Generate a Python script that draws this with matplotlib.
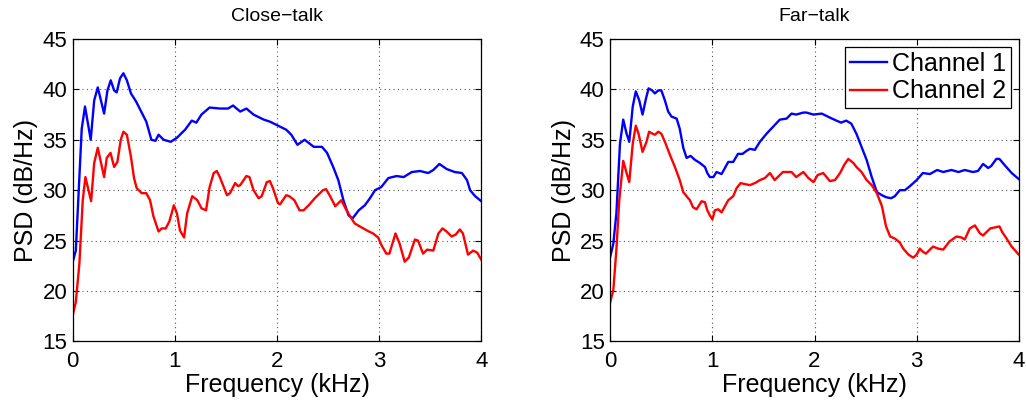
import matplotlib
matplotlib.use("Agg")
import matplotlib.pyplot as plt

# Close-talk, channel 1 (kHz, dB/Hz)
close_f1 = [0.0, 0.03, 0.088, 0.12, 0.176, 0.21, 0.245, 0.307, 0.34, 0.372, 0.405, 0.43, 0.463, 0.496,
            0.53, 0.57, 0.62, 0.66, 0.72, 0.77, 0.81, 0.84, 0.89, 0.96, 1.02, 1.10, 1.165, 1.21, 1.26,
            1.34, 1.44, 1.52, 1.57, 1.64, 1.70, 1.77, 1.87, 1.93, 2.03, 2.09, 2.14, 2.20, 2.27, 2.36,
            2.44, 2.49, 2.55, 2.60, 2.65, 2.70, 2.74, 2.80, 2.86, 2.91, 2.96, 3.02, 3.09, 3.17, 3.24,
            3.32, 3.40, 3.48, 3.53, 3.59, 3.66, 3.74, 3.81, 3.86, 3.89, 3.94, 4.0]
close_ch1 = [22.9, 24.0, 36.1, 38.3, 35.0, 38.9, 40.2, 37.6, 39.9, 40.9, 39.9, 39.7, 41.1, 41.6,
             40.9, 39.6, 38.8, 38.0, 36.8, 35.0, 34.9, 35.5, 35.0, 34.8, 35.2, 36.0, 36.9, 36.7, 37.5,
             38.2, 38.1, 38.1, 38.4, 37.8, 38.1, 37.5, 37.0, 36.8, 36.3, 36.0, 35.5, 34.5, 35.0, 34.3,
             34.3, 33.7, 32.3, 31.0, 29.0, 27.5, 27.2, 28.0, 28.5, 29.2, 30.0, 30.3, 31.2, 31.4, 31.3,
             31.8, 31.9, 31.7, 32.0, 32.6, 32.1, 31.8, 31.7, 31.0, 30.0, 29.4, 28.9]

# Close-talk, channel 2
close_f2 = [0.0, 0.03, 0.065, 0.098, 0.124, 0.18, 0.21, 0.245, 0.307, 0.333, 0.37, 0.405, 0.437, 0.47,
            0.496, 0.53, 0.57, 0.60, 0.626, 0.675, 0.72, 0.757, 0.79, 0.84, 0.87, 0.91, 0.946, 0.99,
            1.02, 1.05, 1.09, 1.12, 1.17, 1.22, 1.26, 1.305, 1.34, 1.38, 1.41, 1.44, 1.51, 1.54, 1.59,
            1.62, 1.64, 1.70, 1.73, 1.77, 1.82, 1.85, 1.90, 1.93, 1.96, 2.01, 2.03, 2.09, 2.12, 2.17,
            2.22, 2.26, 2.31, 2.37, 2.45, 2.48, 2.52, 2.57, 2.63, 2.67, 2.71, 2.76, 2.81, 2.88, 2.94,
            2.99, 3.02, 3.07, 3.10, 3.13, 3.16, 3.20, 3.25, 3.29, 3.35, 3.38, 3.43, 3.47, 3.53, 3.58,
            3.62, 3.66, 3.71, 3.75, 3.79, 3.82, 3.87, 3.92, 3.96, 4.0]
close_ch2 = [17.6, 18.9, 22.7, 29.0, 31.3, 28.9, 32.7, 34.2, 31.3, 33.2, 33.7, 32.3, 32.8, 35.0,
             35.8, 35.5, 33.3, 31.2, 30.2, 29.7, 29.7, 29.0, 27.4, 25.9, 26.2, 26.2, 26.9, 28.5,
             27.7, 26.0, 25.3, 27.7, 29.4, 29.0, 28.2, 28.0, 30.3, 31.7, 31.9, 31.3, 29.5, 29.7, 30.7,
             30.4, 30.5, 31.4, 31.3, 30.0, 29.2, 29.4, 30.8, 30.9, 30.2, 28.7, 28.6, 29.5, 29.4, 29.0,
             28.0, 28.0, 28.5, 29.2, 30.0, 30.1, 29.4, 28.4, 29.0, 28.2, 27.5, 26.7, 26.4, 26.0, 25.7,
             25.3, 24.6, 23.7, 23.7, 24.7, 25.7, 24.7, 22.9, 23.3, 25.1, 25.0, 23.7, 24.1, 24.0, 25.7,
             26.2, 25.9, 25.4, 25.6, 26.1, 25.7, 23.6, 24.0, 23.8, 23.1]

# Far-talk, channel 1
far_f1 = [0.0, 0.03, 0.06, 0.095, 0.127, 0.16, 0.186, 0.22, 0.25, 0.284, 0.316, 0.35, 0.375, 0.41,
          0.437, 0.47, 0.50, 0.535, 0.567, 0.60, 0.65, 0.68, 0.715, 0.747, 0.786, 0.83, 0.877, 0.927,
          0.95, 0.975, 1.01, 1.04, 1.09, 1.155, 1.204, 1.25, 1.295, 1.334, 1.367, 1.416, 1.465, 1.53,
          1.595, 1.66, 1.726, 1.775, 1.82, 1.89, 1.92, 1.99, 2.07, 2.15, 2.215, 2.26, 2.31, 2.36,
          2.41, 2.46, 2.51, 2.56, 2.61, 2.66, 2.70, 2.75, 2.786, 2.835, 2.885, 2.934, 3.0, 3.06,
          3.13, 3.20, 3.26, 3.34, 3.41, 3.47, 3.55, 3.60, 3.65, 3.70, 3.73, 3.78, 3.81, 3.86, 3.93, 4.0]
far_ch1 = [23.4, 24.7, 27.7, 34.6, 37.0, 35.6, 34.8, 38.3, 39.8, 38.9, 37.5, 39.1, 40.1, 39.9,
           39.6, 39.9, 39.9, 38.9, 37.8, 37.3, 37.1, 36.1, 34.2, 33.2, 33.4, 33.0, 32.7, 32.3,
           31.7, 31.3, 31.3, 31.8, 31.6, 32.8, 32.8, 33.6, 33.6, 33.9, 34.1, 34.0, 34.8, 35.6,
           36.3, 37.0, 37.1, 37.6, 37.5, 37.7, 37.7, 37.5, 37.6, 37.2, 36.9, 36.7, 36.9, 36.6,
           35.6, 34.3, 33.0, 31.3, 29.8, 29.5, 29.3, 29.2, 29.4, 30.0, 30.0, 30.4, 31.0, 31.7,
           31.6, 32.0, 31.8, 32.0, 31.8, 32.0, 31.8, 31.9, 32.6, 32.2, 32.4, 33.1, 33.1, 32.5, 31.7, 31.1]

# Far-talk, channel 2
far_f2 = [0.0, 0.03, 0.06, 0.088, 0.127, 0.16, 0.186, 0.22, 0.25, 0.277, 0.316, 0.355, 0.38, 0.414,
          0.437, 0.47, 0.50, 0.535, 0.584, 0.633, 0.68, 0.715, 0.763, 0.78, 0.81, 0.845, 0.894, 0.927,
          0.95, 0.975, 1.0, 1.024, 1.057, 1.09, 1.155, 1.204, 1.237, 1.276, 1.318, 1.367, 1.416,
          1.465, 1.514, 1.563, 1.61, 1.66, 1.69, 1.775, 1.82, 1.89, 1.94, 1.99, 2.03, 2.085, 2.15,
          2.20, 2.25, 2.29, 2.33, 2.38, 2.41, 2.46, 2.51, 2.56, 2.61, 2.66, 2.70, 2.74, 2.786, 2.835,
          2.868, 2.92, 2.966, 3.0, 3.03, 3.06, 3.09, 3.16, 3.21, 3.26, 3.32, 3.39, 3.44, 3.47, 3.52,
          3.57, 3.62, 3.65, 3.72, 3.81, 3.84, 3.88, 3.93, 4.0]
far_ch2 = [18.9, 20.1, 24.1, 29.0, 32.9, 31.7, 30.8, 34.6, 36.4, 35.6, 33.8, 34.8, 35.8, 35.6,
           35.5, 35.8, 35.6, 34.8, 33.5, 32.3, 31.0, 29.8, 29.2, 29.0, 28.3, 28.1, 28.9, 28.8,
           28.0, 27.5, 27.1, 28.0, 28.1, 27.8, 29.0, 29.4, 30.2, 30.7, 30.6, 30.5, 30.7,
           31.0, 31.2, 31.7, 31.0, 31.5, 31.8, 31.8, 31.3, 31.8, 31.2, 30.8, 31.5, 31.7, 30.9,
           31.0, 31.7, 32.5, 33.1, 32.7, 32.3, 31.8, 31.0, 30.5, 29.7, 28.4, 26.4, 25.4, 25.2, 24.8,
           24.2, 23.6, 23.3, 23.6, 24.2, 23.9, 23.7, 24.4, 24.2, 24.1, 24.9, 25.4, 25.3, 25.1, 26.2,
           26.5, 25.7, 25.5, 26.2, 26.4, 25.8, 25.2, 24.4, 23.6]

titles = ["Close\u2212talk", "Far\u2212talk"]
labels = ["Channel 1", "Channel 2"]

plt.rcParams["font.family"] = ["Liberation Sans", "DejaVu Sans"]

fig = plt.figure(figsize=(10.26, 4.03), dpi=100)
ax_l = fig.add_axes([0.0709, 0.1531, 0.3982, 0.7501])
ax_r = fig.add_axes([0.5948, 0.1531, 0.3982, 0.7501])

panels = [
    (ax_l, titles[0], (close_f1, close_ch1), (close_f2, close_ch2)),
    (ax_r, titles[1], (far_f1, far_ch1), (far_f2, far_ch2)),
]

for ax, title, ch1, ch2 in panels:
    ax.plot(ch1[0], ch1[1], color="#0000ff", lw=1.7, label=labels[0])
    ax.plot(ch2[0], ch2[1], color="#ff0000", lw=1.7, label=labels[1])
    ax.set_xlim(0, 4)
    ax.set_ylim(15, 45)
    ax.set_xticks([0, 1, 2, 3, 4])
    ax.set_yticks([15, 20, 25, 30, 35, 40, 45])
    ax.grid(True, color="#555555", linestyle=(0, (1, 3)), linewidth=0.8)
    ax.tick_params(direction="in", length=4, width=0.8, top=True, right=True, labelsize=16)
    ax.tick_params(axis="x", pad=7)
    ax.tick_params(axis="y", pad=4)
    for s in ax.spines.values():
        s.set_linewidth(0.9)
    ax.set_title(title, fontsize=14, pad=13)
    ax.set_xlabel("Frequency (kHz)", fontsize=18, labelpad=1)
    ax.set_ylabel("PSD (dB/Hz)", fontsize=18, labelpad=3)

leg = ax_r.legend(loc="upper right", fontsize=18, frameon=True, fancybox=False,
                  edgecolor="black", framealpha=1, handlelength=1.5, handletextpad=0.2,
                  labelspacing=0.15, borderpad=0.2, borderaxespad=0.3)
leg.get_frame().set_linewidth(0.9)

fig.savefig("out.png", dpi=100)
